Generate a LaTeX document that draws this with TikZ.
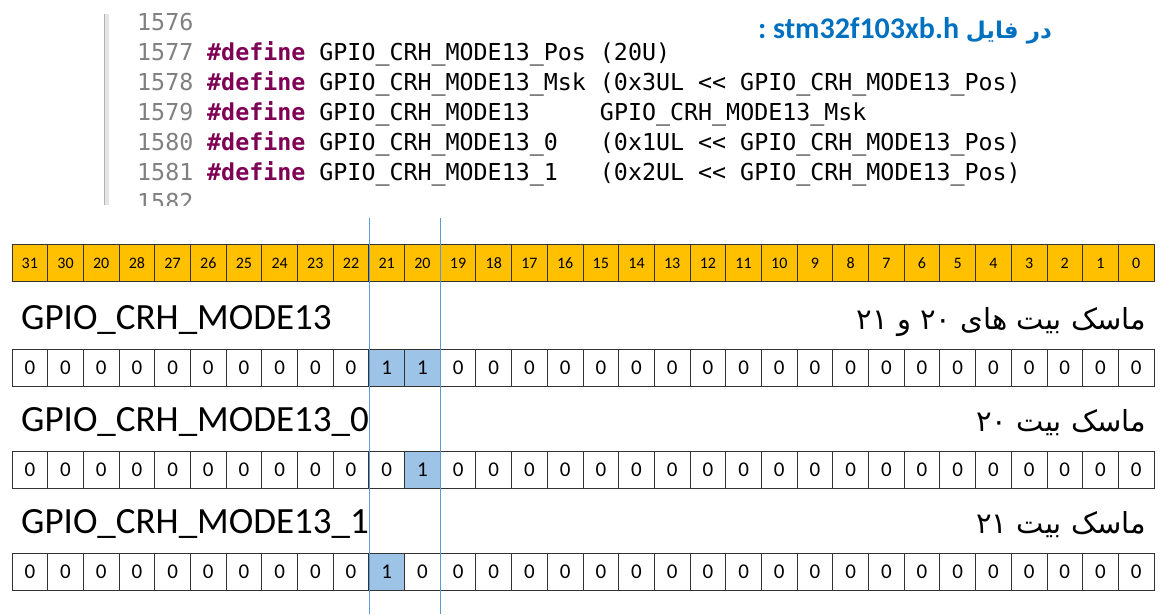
\documentclass[tikz,border=0pt]{standalone}
\usepackage{fontspec}
\setmainfont{Carlito}
\newfontfamily\codefont{DejaVu Sans Mono}
\newfontfamily\farsi[Script=Arabic]{DejaVu Sans}
\TeXXeTstate=1

\definecolor{gold}{HTML}{FFC000}
\definecolor{maskblue}{HTML}{9DC3E6}
\definecolor{guide}{HTML}{5B9BD5}
\definecolor{titleblue}{HTML}{0070C0}
\definecolor{keyword}{HTML}{7F0055}
\definecolor{linenum}{HTML}{808080}

\tikzset{
	cell/.style={draw=black!80, line width=0.9pt, minimum width=35.6875pt, minimum height=37pt, inner sep=0pt, font=\fontsize{21}{21}\selectfont},
	headcell/.style={cell, fill=gold, font=\fontsize{16}{16}\selectfont},
	v0/.style={cell},
	v1/.style={cell, fill=maskblue},
	regname/.style={anchor=base west, inner sep=0pt, font=\fontsize{37}{37}\selectfont},
	masknote/.style={anchor=base east, inner sep=0pt, font=\farsi\fontsize{29}{29}\selectfont},
	codeline/.style={anchor=base west, inner sep=0pt, font=\codefont\fontsize{23.3}{23.3}\selectfont},
	guideline/.style={guide, line width=0.8pt},
}
\newcommand{\kw}{\textcolor{keyword}{\bfseries\#define}}

\begin{document}
\begin{tikzpicture}[x=1pt, y=-1pt]
	\useasboundingbox (0,0) rectangle (1166,614);

	% editor snippet
	\fill[black!10] (104,14) rectangle (109,205);
	\draw[black!30] (104,14) -- (104,205);
	\begin{scope}
		\clip (100,0) rectangle (1166,205);
		\foreach \y/\n in {30/1576,60/1577,90/1578,120/1579,150/1580,180/1581,210/1582}
			\node[codeline, text=linenum] (n\n) at (137,\y) {\n};
	\end{scope}
	\node[codeline] (c1577) at (207,60) {\kw{} GPIO\_CRH\_MODE13\_Pos (20U)};
	\node[codeline] (c1578) at (207,90) {\kw{} GPIO\_CRH\_MODE13\_Msk (0x3UL << GPIO\_CRH\_MODE13\_Pos)};
	\node[codeline] (c1579) at (207,120) {\kw{} GPIO\_CRH\_MODE13~~~~~GPIO\_CRH\_MODE13\_Msk};
	\node[codeline] (c1580) at (207,150) {\kw{} GPIO\_CRH\_MODE13\_0~~~(0x1UL << GPIO\_CRH\_MODE13\_Pos)};
	\node[codeline] (c1581) at (207,180) {\kw{} GPIO\_CRH\_MODE13\_1~~~(0x2UL << GPIO\_CRH\_MODE13\_Pos)};

	\node[anchor=base east, inner sep=0pt, text=titleblue, font=\bfseries\fontsize{30}{30}\selectfont] (title) at (1052,38)
		{:~stm32f103xb.h {\farsi\fontsize{23}{23}\selectfont\beginR در فایل\endR}};

	% guide lines for bits 21 and 20
	\coordinate (g21top) at (368.9,218);
	\coordinate (g21bot) at (368.9,614);
	\coordinate (g20top) at (440.3,218);
	\coordinate (g20bot) at (440.3,614);

	% bit numbers
	\foreach \b [count=\i from 0] in {31,30,20,28,27,26,25,24,23,22,21,20,19,18,17,16,15,14,13,12,11,10,9,8,7,6,5,4,3,2,1,0}
		\node[headcell] (h\i) at ({29.84+35.6875*\i},263) {\b};

	% masks
	\node[regname] (r1) at (21,329) {GPIO\_CRH\_MODE13};
	\node[masknote] (m1) at (1146,329) {\beginR ماسک بیت های ۲۰ و ۲۱\endR};
	\foreach \v [count=\i from 0] in {0,0,0,0,0,0,0,0,0,0,1,1,0,0,0,0,0,0,0,0,0,0,0,0,0,0,0,0,0,0,0,0}
		\node[v\v] (a\i) at ({29.84+35.6875*\i},367.5) {\v};

	\node[regname] (r2) at (21,431) {GPIO\_CRH\_MODE13\_0};
	\node[masknote] (m2) at (1146,431) {\beginR ماسک بیت ۲۰\endR};
	\foreach \v [count=\i from 0] in {0,0,0,0,0,0,0,0,0,0,0,1,0,0,0,0,0,0,0,0,0,0,0,0,0,0,0,0,0,0,0,0}
		\node[v\v] (b\i) at ({29.84+35.6875*\i},469.5) {\v};

	\node[regname] (r3) at (21,533) {GPIO\_CRH\_MODE13\_1};
	\node[masknote] (m3) at (1146,533) {\beginR ماسک بیت ۲۱\endR};
	\foreach \v [count=\i from 0] in {0,0,0,0,0,0,0,0,0,0,1,0,0,0,0,0,0,0,0,0,0,0,0,0,0,0,0,0,0,0,0,0}
		\node[v\v] (c\i) at ({29.84+35.6875*\i},571.5) {\v};

	\draw[guideline] (g21top) -- (g21bot);
	\draw[guideline] (g20top) -- (g20bot);
\end{tikzpicture}
\end{document}
